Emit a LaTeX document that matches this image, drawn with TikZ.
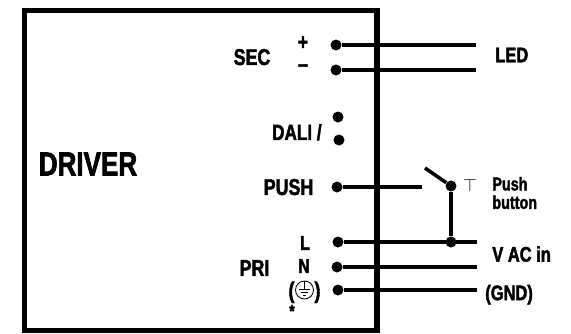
\documentclass[tikz,border=0pt]{standalone}
\usepackage{fontspec}
\setmainfont{Liberation Sans}[FakeStretch=0.78,BoldFeatures={FakeBold=2}]
\usepackage{tikz}
\usetikzlibrary{positioning}

\begin{document}
\begin{tikzpicture}[
wire/.style={line width=2pt},
term/.style={circle,fill,inner sep=0pt,minimum size=0.22cm},
lbl/.style={font=\bfseries\fontsize{#1}{#1}\selectfont,inner sep=0pt,text depth=0pt}
]
\useasboundingbox (0,0) rectangle (11.42,6.66);

% The driver box
\draw[line width=3.1pt] (0.49,0.05) rectangle (7.54,6.45);
\node[lbl=19] (driver) at (1.76,3.38) {DRIVER};

% The terminals
\node[term] (secp) at (6.72,5.76) {};
\node[term] (secm) at (6.72,5.26) {};
\node[term] (dalia) at (6.76,4.32) {};
\node[term] (dalib) at (6.78,3.86) {};
\node[term] (push) at (6.74,2.92) {};
\node[term] (lin) at (6.76,1.82) {};
\node[term] (nin) at (6.74,1.32) {};
\node[term] (gin) at (6.76,0.86) {};

% The free ends
\coordinate (ledp) at (9.52,5.76);
\coordinate (ledm) at (9.52,5.26);
\coordinate (pushend) at (8.44,2.92);
\coordinate (lever) at (8.50,3.30);
\coordinate (lout) at (9.54,1.82);
\coordinate (nout) at (9.54,1.32);
\coordinate (gout) at (9.54,0.86);
\node[term] (pivot) at (9.02,2.94) {};
\node[term] (junc) at (9.02,1.82) {};

% The wires
\draw[wire] (secp) -- (ledp);
\draw[wire] (secm) -- (ledm);
\draw[wire] (push) -- (pushend);
\draw[wire] (lever) -- (pivot);
\draw[wire] (pivot) -- (junc);
\draw[wire] (lin) -- (lout);
\draw[wire] (nin) -- (nout);
\draw[wire] (gin) -- (gout);

% The labels
\node[lbl=13] (sec) at (5.04,5.52) {SEC};
\node[lbl=13] (plus) at (6.06,5.80) {+};
\node[lbl=13] (minus) at (6.06,5.30) {--};
\node[lbl=12.5,anchor=east] (dali) at (6.44,4.02) {DALI /};
\node[lbl=13,left=0.35cm of push] (pushlbl) {PUSH};
\node[lbl=11.5] (llbl) at (6.10,1.80) {L};
\node[lbl=11.5] (nlbl) at (6.08,1.34) {N};
\node[lbl=13] (pri) at (5.09,1.30) {PRI};
\node[lbl=13] (gnd) at (6.09,0.86) {(\hspace{0.40cm})};
\draw[line width=0.5pt] (gnd.center) circle (0.18);
\draw[line width=0.5pt] ([yshift=0.18cm]gnd.center) -- ([yshift=0.02cm]gnd.center)
  ([shift={(-0.11,0.02)}]gnd.center) -- ([shift={(0.11,0.02)}]gnd.center)
  ([shift={(-0.07,-0.04)}]gnd.center) -- ([shift={(0.07,-0.04)}]gnd.center)
  ([shift={(-0.03,-0.10)}]gnd.center) -- ([shift={(0.03,-0.10)}]gnd.center);
\node[lbl=10] (star) at (5.84,0.44) {*};
\node[lbl=12,anchor=west] (led) at (9.90,5.56) {LED};
\node (tee) at (9.40,2.96) {$\top$};
\node[font=\bfseries\fontsize{10.5}{10.5}\selectfont,inner sep=0pt,anchor=west,align=left] (pb) at (9.84,2.80) {Push\\button};
\node[lbl=12,anchor=west] (vac) at (9.84,1.58) {V AC in};
\node[lbl=12,anchor=west] (gndlbl) at (9.70,0.81) {(GND)};
\end{tikzpicture}
\end{document}
